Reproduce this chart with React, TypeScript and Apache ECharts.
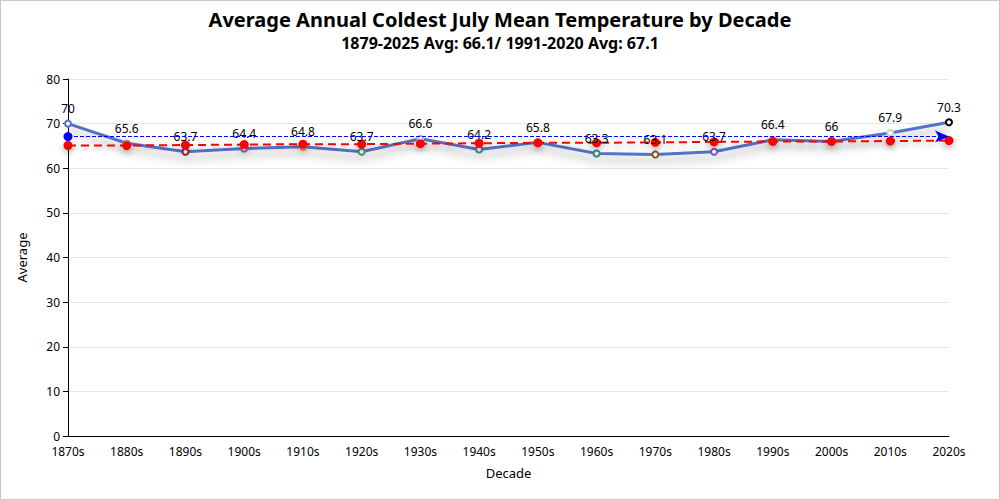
import React, { useEffect, useRef } from "react";
import * as echarts from "echarts";

const decades = ["1870s","1880s","1890s","1900s","1910s","1920s","1930s","1940s","1950s","1960s","1970s","1980s","1990s","2000s","2010s","2020s"];
const averages = [70, 65.6, 63.7, 64.4, 64.8, 63.7, 66.6, 64.2, 65.8, 63.3, 63.1, 63.7, 66.4, 66, 67.9, 70.3];
const trend = [65.1, 65.1, 65.2, 65.3, 65.4, 65.4, 65.5, 65.6, 65.7, 65.7, 65.8, 65.9, 66.0, 66.0, 66.1, 66.2];
const markerColors = ["#5470c6","#91cc75","#a0203a","#9a60b4","#fc8452","#3ba272","#a9b7c6","#3b8a9a","#73c0de","#2e8b7a","#8b5a2b","#7e57c2","#c0c0c0","#9e9e9e","#d0d0d0","#000000"];
const normalAvg = 67.1;
const yTicks = [0, 10, 20, 30, 40, 50, 60, 70, 80];

const FONT = "'Noto Sans', 'DejaVu Sans', sans-serif";

export default function App() {
  const ref = useRef<HTMLDivElement>(null);
  useEffect(() => {
    document.body.style.margin = "0";
    const chart = echarts.init(ref.current!, null, { renderer: "svg" });
    chart.setOption({
      animation: false,
      textStyle: { fontFamily: FONT },
      title: {
        text: "Average Annual Coldest July Mean Temperature by Decade",
        subtext: "1879-2025 Avg: 66.1/ 1991-2020 Avg: 67.1",
        left: "center",
        top: 3,
        itemGap: 6,
        textStyle: { fontFamily: FONT, fontSize: 20, fontWeight: "bold", color: "#000" },
        subtextStyle: { fontFamily: FONT, fontSize: 16, fontWeight: "bold", color: "#000" },
      },
      grid: { left: 67, right: 50, top: 78, bottom: 63 },
      xAxis: {
        type: "category",
        data: decades,
        boundaryGap: false,
        name: "Decade",
        nameLocation: "middle",
        nameGap: 30,
        nameTextStyle: { color: "#000", fontSize: 13 },
        axisLine: { lineStyle: { color: "#000" } },
        axisTick: { show: false },
        axisLabel: { color: "#000", fontSize: 12, margin: 9 },
      },
      yAxis: {
        type: "value",
        min: yTicks[0],
        max: yTicks[yTicks.length - 1],
        interval: 10,
        name: "Average",
        nameLocation: "middle",
        nameGap: 40,
        nameTextStyle: { color: "#000", fontSize: 13 },
        axisLine: { show: true, lineStyle: { color: "#000" } },
        axisTick: { show: true, lineStyle: { color: "#000" } },
        axisLabel: { color: "#000", fontSize: 12 },
        splitLine: { lineStyle: { color: "#e6e6e6" } },
      },
      series: [
        {
          type: "line",
          data: averages.map((v, i) => ({ value: v, itemStyle: { color: markerColors[i], borderColor: markerColors[i] } })),
          symbol: "emptyCircle",
          symbolSize: 6,
          showAllSymbol: true,
          lineStyle: { color: "#5470c6", width: 3, shadowColor: "rgba(0,0,0,0.35)", shadowBlur: 10, shadowOffsetY: 6 },
          itemStyle: { borderWidth: 2 },
          label: { show: false },
          markLine: {
            silent: true,
            symbol: ["circle", "arrow"],
            symbolSize: [9, 14],
            label: { show: false },
            lineStyle: { color: "#0000ff", type: [4, 2], width: 1 },
            data: [[
              { coord: [decades[0], normalAvg], symbol: "circle", itemStyle: { color: "#0000ff" } },
              { coord: [decades[decades.length - 1], normalAvg], symbol: "arrow", itemStyle: { color: "#0000ff" } },
            ]],
          },
          z: 2,
        },
        {
          type: "line",
          data: trend,
          symbol: "circle",
          symbolSize: 9,
          itemStyle: { color: "#ff0000", shadowColor: "rgba(0,0,0,0.3)", shadowBlur: 6, shadowOffsetY: 3 },
          lineStyle: { color: "#ff0000", width: 2, type: [8, 5], shadowColor: "rgba(0,0,0,0.3)", shadowBlur: 6, shadowOffsetY: 3 },
          z: 3,
        },
        {
          type: "line",
          data: averages,
          symbol: "circle",
          symbolSize: 6,
          silent: true,
          itemStyle: { color: "rgba(0,0,0,0)" },
          lineStyle: { width: 0, opacity: 0 },
          label: { show: true, position: "top", color: "#000", fontSize: 12, distance: 6 },
          z: 4,
        },
      ],
    });
    return () => chart.dispose();
  }, []);
  return (
    <div
      ref={ref}
      style={{ width: 998, height: 498, border: "1px solid #c8c8c8", background: "#fff" }}
    />
  );
}
